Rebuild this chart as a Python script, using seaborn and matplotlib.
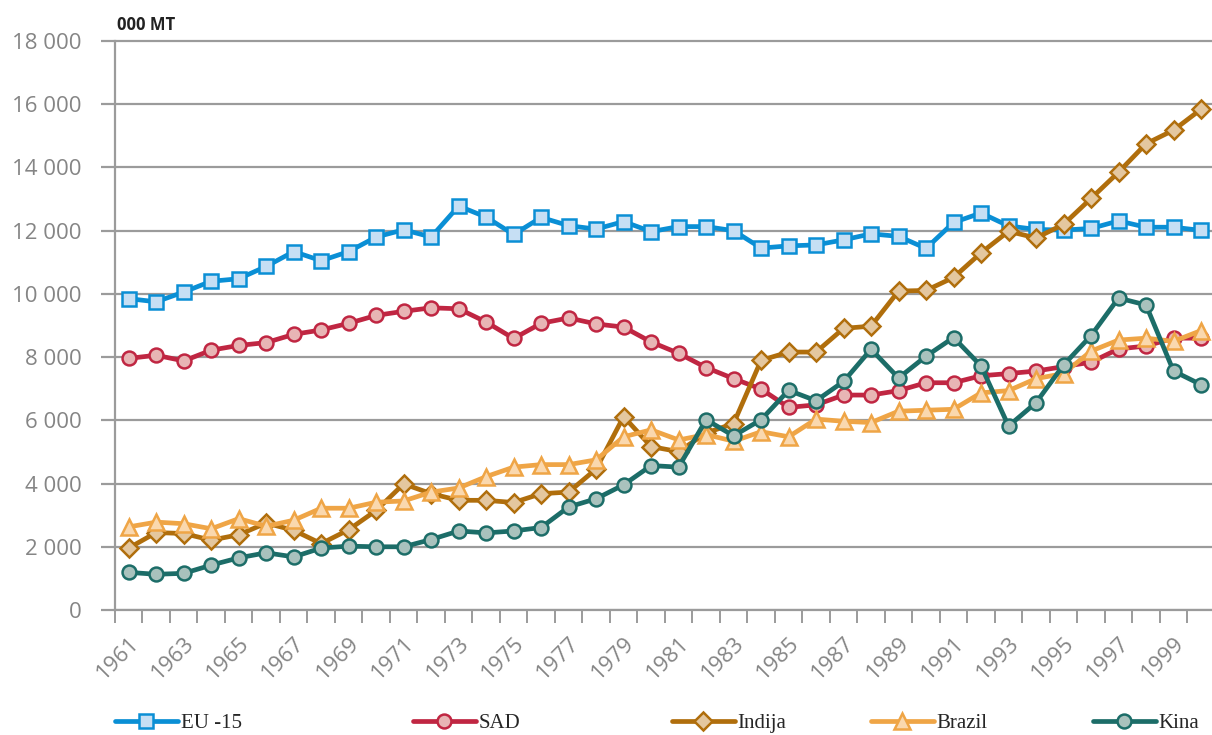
import matplotlib
matplotlib.use("Agg")
import matplotlib.pyplot as plt
import matplotlib.ticker as mticker
import seaborn as sns
import pandas as pd

years = list(range(1961, 2001))

eu15 = [9850, 9750, 10060, 10400, 10480, 10870, 11340, 11050, 11340, 11800,
        12030, 11800, 12780, 12430, 11880, 12420, 12160, 12050, 12290, 11970,
        12130, 12130, 12000, 11450, 11520, 11550, 11710, 11900, 11820, 11440,
        12260, 12560, 12150, 12040, 12020, 12070, 12310, 12110, 12110, 12010]
sad = [7960, 8060, 7880, 8220, 8370, 8460, 8720, 8860, 9070, 9320,
       9450, 9560, 9530, 9110, 8590, 9070, 9240, 9050, 8950, 8480,
       8120, 7670, 7320, 6990, 6410, 6490, 6800, 6800, 6940, 7190,
       7190, 7410, 7480, 7560, 7700, 7840, 8260, 8350, 8600, 8600]
indija = [1960, 2450, 2420, 2210, 2380, 2750, 2520, 2100, 2540, 3150,
          3990, 3680, 3470, 3470, 3400, 3680, 3730, 4460, 6120, 5170,
          5010, 5600, 5900, 7900, 8160, 8160, 8910, 8980, 10090, 10110,
          10520, 11300, 11980, 11770, 12200, 13020, 13850, 14750, 15180, 15840]
brazil = [2630, 2780, 2730, 2570, 2890, 2650, 2840, 3220, 3220, 3410,
          3450, 3730, 3860, 4220, 4520, 4600, 4600, 4750, 5480, 5700,
          5380, 5550, 5340, 5640, 5480, 6040, 5970, 5930, 6290, 6320,
          6350, 6870, 6940, 7320, 7480, 8190, 8540, 8600, 8500, 8840]
kina = [1190, 1130, 1160, 1420, 1650, 1810, 1680, 1960, 2020, 2000,
        2000, 2230, 2500, 2440, 2500, 2610, 3260, 3520, 3960, 4570,
        4520, 6020, 5510, 6020, 6950, 6620, 7230, 8250, 7340, 8030,
        8620, 7720, 5820, 6560, 7750, 8680, 9870, 9650, 7560, 7130]

labels = ["EU -15", "SAD", "Indija", "Brazil", "Kina"]
series = [eu15, sad, indija, brazil, kina]

styles = {
    "EU -15": dict(color="#0A8FD5", mfc="#C6DFF4", marker="s", ms=10.5),
    "SAD":    dict(color="#C02642", mfc="#E8B5B5", marker="o", ms=10),
    "Indija": dict(color="#B06E0C", mfc="#E4C79F", marker="D", ms=9),
    "Brazil": dict(color="#EFA546", mfc="#FAD8AE", marker="^", ms=11),
    "Kina":   dict(color="#1C6D68", mfc="#A9C2BD", marker="o", ms=10),
}

df = pd.DataFrame({"year": years})
for lab, vals in zip(labels, series):
    df[lab] = vals

sns.set_style("white")
plt.rcParams["font.family"] = ["Open Sans", "DejaVu Sans"]

fig = plt.figure(figsize=(12.12, 7.35), dpi=100)
ax = fig.add_axes([115 / 1212, 125 / 735, (1212 - 115) / 1212, (610 - 36.3) / 735])

grid_c = "#9B9B9B"
lab_c = "#858585"
handles = []
for lab in labels:
    st = styles[lab]
    sns.lineplot(data=df, x="year", y=lab, ax=ax, color=st["color"],
                 marker=st["marker"], markersize=st["ms"],
                 markerfacecolor=st["mfc"], markeredgecolor=st["color"],
                 markeredgewidth=1.8, linewidth=3.4, label=lab, legend=False)
    handles.append(ax.lines[-1])

ax.set_xlim(1960.5, 2000.4)
ax.set_ylim(0, 18150)
ax.set_xlabel("")
ax.set_ylabel("")

# y axis
ax.set_yticks(range(0, 18001, 2000))
ax.yaxis.set_major_formatter(mticker.FuncFormatter(
    lambda v, p: "0" if v == 0 else f"{int(v):,}".replace(",", " ")))
ax.yaxis.grid(True, color=grid_c, linewidth=1.6)
ax.set_axisbelow(True)
ax.tick_params(axis="y", which="major", length=10, width=1.6, color=grid_c,
               pad=14, labelsize=16, labelcolor=lab_c, left=True)

# x axis
ax.set_xticks(years[::2])
ax.set_xticks([y - 0.5 for y in years], minor=True)
ax.tick_params(axis="x", which="major", length=0, pad=16, labelsize=16,
               labelcolor=lab_c)
ax.tick_params(axis="x", which="minor", length=9, width=1.4, color=grid_c,
               bottom=True, direction="out")
plt.setp(ax.get_xticklabels(), rotation=45, ha="right", rotation_mode="anchor")

for s in ["top", "right"]:
    ax.spines[s].set_visible(False)
ax.spines["left"].set_color(grid_c)
ax.spines["left"].set_linewidth(1.6)
ax.spines["left"].set_bounds(0, 18000)
ax.spines["bottom"].set_color(grid_c)
ax.spines["bottom"].set_linewidth(1.6)

fig.text(117 / 1212, 1 - 30 / 735, "000 MT", fontsize=12, fontweight="bold",
         color="#222222", va="baseline", ha="left")

# legend entries at individual positions
leg_x = [115, 413, 672, 871, 1093]
for h, lab, x in zip(handles, labels, leg_x):
    fig.legend([h], [lab], loc="center left",
               bbox_to_anchor=(x / 1212, (735 - 723) / 735),
               frameon=False, borderpad=0, borderaxespad=0,
               handlelength=3.0, handletextpad=0.15,
               prop={"family": "Liberation Serif", "size": 15})

fig.savefig("out.png", dpi=100, facecolor="white")
